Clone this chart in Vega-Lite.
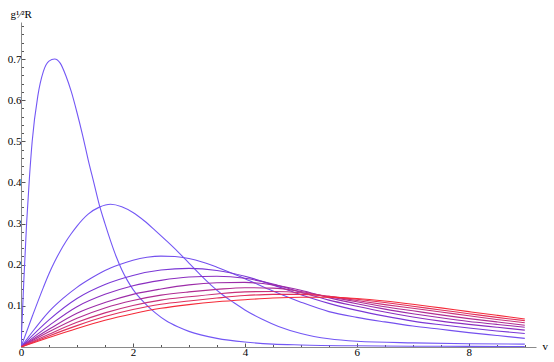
{
  "$schema": "https://vega.github.io/schema/vega-lite/v6.json",
  "width": 515,
  "height": 325,
  "autosize": "none",
  "padding": {"left": 21, "top": 22, "right": 18, "bottom": 15},
  "background": "white",
  "config": {
    "view": {"stroke": null},
    "axis": {
      "grid": false,
      "domainColor": "#8a8a8a",
      "domainWidth": 1,
      "tickColor": "#555555",
      "tickWidth": 1,
      "labelFont": "Liberation Serif",
      "labelFontSize": 11,
      "labelColor": "#000000",
      "titleFont": "Liberation Serif",
      "titleFontSize": 11,
      "titleFontWeight": "normal",
      "titleColor": "#000000"
    }
  },
  "datasets": {
    "curves": [
      {"c":"c1","v":0,"r":0},{"c":"c1","v":0.05,"r":0.16},{"c":"c1","v":0.1,"r":0.30},{"c":"c1","v":0.15,"r":0.41},{"c":"c1","v":0.2,"r":0.50},{"c":"c1","v":0.3,"r":0.61},{"c":"c1","v":0.4,"r":0.67},{"c":"c1","v":0.5,"r":0.695},{"c":"c1","v":0.6,"r":0.70},{"c":"c1","v":0.7,"r":0.69},{"c":"c1","v":0.8,"r":0.66},{"c":"c1","v":0.9,"r":0.62},{"c":"c1","v":1.0,"r":0.57},{"c":"c1","v":1.1,"r":0.515},{"c":"c1","v":1.2,"r":0.455},{"c":"c1","v":1.3,"r":0.40},{"c":"c1","v":1.4,"r":0.345},{"c":"c1","v":1.5,"r":0.30},{"c":"c1","v":1.6,"r":0.258},{"c":"c1","v":1.7,"r":0.22},{"c":"c1","v":1.8,"r":0.188},{"c":"c1","v":1.9,"r":0.162},{"c":"c1","v":2.0,"r":0.14},{"c":"c1","v":2.2,"r":0.108},{"c":"c1","v":2.4,"r":0.083},{"c":"c1","v":2.6,"r":0.063},{"c":"c1","v":2.8,"r":0.049},{"c":"c1","v":3.0,"r":0.038},{"c":"c1","v":3.5,"r":0.021},{"c":"c1","v":4.0,"r":0.012},{"c":"c1","v":4.5,"r":0.007},{"c":"c1","v":5.0,"r":0.005},{"c":"c1","v":6.0,"r":0.003},{"c":"c1","v":7.0,"r":0.002},{"c":"c1","v":8.0,"r":0.0015},{"c":"c1","v":9.0,"r":0.001},

      {"c":"c2","v":0,"r":0},{"c":"c2","v":0.2,"r":0.074},{"c":"c2","v":0.4,"r":0.145},{"c":"c2","v":0.5,"r":0.178},{"c":"c2","v":0.6,"r":0.207},{"c":"c2","v":0.7,"r":0.233},{"c":"c2","v":0.8,"r":0.256},{"c":"c2","v":0.9,"r":0.276},{"c":"c2","v":1.0,"r":0.294},{"c":"c2","v":1.2,"r":0.323},{"c":"c2","v":1.4,"r":0.340},{"c":"c2","v":1.6,"r":0.347},{"c":"c2","v":1.8,"r":0.341},{"c":"c2","v":2.0,"r":0.327},{"c":"c2","v":2.2,"r":0.307},{"c":"c2","v":2.4,"r":0.283},{"c":"c2","v":2.6,"r":0.258},{"c":"c2","v":2.8,"r":0.232},{"c":"c2","v":3.0,"r":0.204},{"c":"c2","v":3.2,"r":0.176},{"c":"c2","v":3.4,"r":0.150},{"c":"c2","v":3.6,"r":0.127},{"c":"c2","v":3.8,"r":0.108},{"c":"c2","v":4.0,"r":0.090},{"c":"c2","v":4.3,"r":0.068},{"c":"c2","v":4.6,"r":0.050},{"c":"c2","v":5.0,"r":0.033},{"c":"c2","v":5.5,"r":0.020},{"c":"c2","v":6.0,"r":0.014},{"c":"c2","v":7.0,"r":0.010},{"c":"c2","v":8.0,"r":0.008},{"c":"c2","v":9.0,"r":0.007},

      {"c":"c3","v":0,"r":0},{"c":"c3","v":0.25,"r":0.045},{"c":"c3","v":0.5,"r":0.086},{"c":"c3","v":0.75,"r":0.118},{"c":"c3","v":1.0,"r":0.145},{"c":"c3","v":1.25,"r":0.167},{"c":"c3","v":1.5,"r":0.186},{"c":"c3","v":1.75,"r":0.200},{"c":"c3","v":2.0,"r":0.211},{"c":"c3","v":2.25,"r":0.218},{"c":"c3","v":2.5,"r":0.221},{"c":"c3","v":2.75,"r":0.220},{"c":"c3","v":3.0,"r":0.215},{"c":"c3","v":3.25,"r":0.206},{"c":"c3","v":3.5,"r":0.194},{"c":"c3","v":4.0,"r":0.166},{"c":"c3","v":4.5,"r":0.136},{"c":"c3","v":5.0,"r":0.109},{"c":"c3","v":5.5,"r":0.086},{"c":"c3","v":6.0,"r":0.072},{"c":"c3","v":6.5,"r":0.061},{"c":"c3","v":7.0,"r":0.051},{"c":"c3","v":7.5,"r":0.043},{"c":"c3","v":8.0,"r":0.035},{"c":"c3","v":8.5,"r":0.028},{"c":"c3","v":9.0,"r":0.021},

      {"c":"c4","v":0,"r":0},{"c":"c4","v":0.5,"r":0.066},{"c":"c4","v":1.0,"r":0.118},{"c":"c4","v":1.5,"r":0.152},{"c":"c4","v":2.0,"r":0.174},{"c":"c4","v":2.5,"r":0.187},{"c":"c4","v":3.0,"r":0.191},{"c":"c4","v":3.5,"r":0.186},{"c":"c4","v":4.0,"r":0.172},{"c":"c4","v":4.5,"r":0.151},{"c":"c4","v":5.0,"r":0.127},{"c":"c4","v":5.5,"r":0.106},{"c":"c4","v":6.0,"r":0.089},{"c":"c4","v":6.5,"r":0.075},{"c":"c4","v":7.0,"r":0.063},{"c":"c4","v":7.5,"r":0.054},{"c":"c4","v":8.0,"r":0.046},{"c":"c4","v":8.5,"r":0.039},{"c":"c4","v":9.0,"r":0.033},

      {"c":"c5","v":0,"r":0},{"c":"c5","v":0.5,"r":0.052},{"c":"c5","v":1.0,"r":0.098},{"c":"c5","v":1.5,"r":0.128},{"c":"c5","v":2.0,"r":0.149},{"c":"c5","v":2.5,"r":0.162},{"c":"c5","v":3.0,"r":0.170},{"c":"c5","v":3.5,"r":0.172},{"c":"c5","v":4.0,"r":0.167},{"c":"c5","v":4.5,"r":0.153},{"c":"c5","v":5.0,"r":0.133},{"c":"c5","v":5.5,"r":0.114},{"c":"c5","v":6.0,"r":0.099},{"c":"c5","v":6.5,"r":0.085},{"c":"c5","v":7.0,"r":0.073},{"c":"c5","v":7.5,"r":0.063},{"c":"c5","v":8.0,"r":0.055},{"c":"c5","v":8.5,"r":0.048},{"c":"c5","v":9.0,"r":0.041},

      {"c":"c6","v":0,"r":0},{"c":"c6","v":0.5,"r":0.043},{"c":"c6","v":1.0,"r":0.082},{"c":"c6","v":1.5,"r":0.108},{"c":"c6","v":2.0,"r":0.128},{"c":"c6","v":2.5,"r":0.141},{"c":"c6","v":3.0,"r":0.151},{"c":"c6","v":3.5,"r":0.156},{"c":"c6","v":4.0,"r":0.157},{"c":"c6","v":4.5,"r":0.151},{"c":"c6","v":5.0,"r":0.138},{"c":"c6","v":5.5,"r":0.120},{"c":"c6","v":6.0,"r":0.105},{"c":"c6","v":6.5,"r":0.092},{"c":"c6","v":7.0,"r":0.081},{"c":"c6","v":7.5,"r":0.071},{"c":"c6","v":8.0,"r":0.062},{"c":"c6","v":8.5,"r":0.055},{"c":"c6","v":9.0,"r":0.048},

      {"c":"c7","v":0,"r":0},{"c":"c7","v":0.5,"r":0.037},{"c":"c7","v":1.0,"r":0.070},{"c":"c7","v":1.5,"r":0.095},{"c":"c7","v":2.0,"r":0.113},{"c":"c7","v":2.5,"r":0.126},{"c":"c7","v":3.0,"r":0.134},{"c":"c7","v":3.5,"r":0.140},{"c":"c7","v":4.0,"r":0.144},{"c":"c7","v":4.5,"r":0.143},{"c":"c7","v":5.0,"r":0.135},{"c":"c7","v":5.5,"r":0.122},{"c":"c7","v":6.0,"r":0.110},{"c":"c7","v":6.5,"r":0.098},{"c":"c7","v":7.0,"r":0.088},{"c":"c7","v":7.5,"r":0.078},{"c":"c7","v":8.0,"r":0.069},{"c":"c7","v":8.5,"r":0.061},{"c":"c7","v":9.0,"r":0.053},

      {"c":"c8","v":0,"r":0},{"c":"c8","v":0.5,"r":0.031},{"c":"c8","v":1.0,"r":0.060},{"c":"c8","v":1.5,"r":0.083},{"c":"c8","v":2.0,"r":0.101},{"c":"c8","v":2.5,"r":0.114},{"c":"c8","v":3.0,"r":0.122},{"c":"c8","v":3.5,"r":0.129},{"c":"c8","v":4.0,"r":0.134},{"c":"c8","v":4.5,"r":0.135},{"c":"c8","v":5.0,"r":0.132},{"c":"c8","v":5.5,"r":0.123},{"c":"c8","v":6.0,"r":0.113},{"c":"c8","v":6.5,"r":0.103},{"c":"c8","v":7.0,"r":0.094},{"c":"c8","v":7.5,"r":0.085},{"c":"c8","v":8.0,"r":0.076},{"c":"c8","v":8.5,"r":0.067},{"c":"c8","v":9.0,"r":0.059},

      {"c":"c9","v":0,"r":0},{"c":"c9","v":0.5,"r":0.027},{"c":"c9","v":1.0,"r":0.052},{"c":"c9","v":1.5,"r":0.074},{"c":"c9","v":2.0,"r":0.091},{"c":"c9","v":2.5,"r":0.104},{"c":"c9","v":3.0,"r":0.112},{"c":"c9","v":3.5,"r":0.119},{"c":"c9","v":4.0,"r":0.125},{"c":"c9","v":4.5,"r":0.128},{"c":"c9","v":5.0,"r":0.128},{"c":"c9","v":5.5,"r":0.123},{"c":"c9","v":6.0,"r":0.116},{"c":"c9","v":6.5,"r":0.108},{"c":"c9","v":7.0,"r":0.099},{"c":"c9","v":7.5,"r":0.090},{"c":"c9","v":8.0,"r":0.081},{"c":"c9","v":8.5,"r":0.072},{"c":"c9","v":9.0,"r":0.064},

      {"c":"c10","v":0,"r":0},{"c":"c10","v":0.5,"r":0.023},{"c":"c10","v":1.0,"r":0.045},{"c":"c10","v":1.5,"r":0.065},{"c":"c10","v":2.0,"r":0.081},{"c":"c10","v":2.5,"r":0.094},{"c":"c10","v":3.0,"r":0.103},{"c":"c10","v":3.5,"r":0.110},{"c":"c10","v":4.0,"r":0.115},{"c":"c10","v":4.5,"r":0.119},{"c":"c10","v":5.0,"r":0.121},{"c":"c10","v":5.5,"r":0.121},{"c":"c10","v":6.0,"r":0.118},{"c":"c10","v":6.5,"r":0.112},{"c":"c10","v":7.0,"r":0.104},{"c":"c10","v":7.5,"r":0.095},{"c":"c10","v":8.0,"r":0.086},{"c":"c10","v":8.5,"r":0.077},{"c":"c10","v":9.0,"r":0.068}
    ]
  },
  "data": {"name": "curves"},
  "mark": {"type": "line", "interpolate": "monotone", "strokeWidth": 1.1, "clip": true},
  "encoding": {
    "x": {
      "field": "v", "type": "quantitative",
      "scale": {"domain": [0, 9.2], "nice": false, "zero": true},
      "axis": {
        "orient": "bottom",
        "values": [0,0.5,1,1.5,2,2.5,3,3.5,4,4.5,5,5.5,6,6.5,7,7.5,8,8.5,9],
        "labelExpr": "datum.value % 2 == 0 ? format(datum.value, 'd') : ''",
        "tickSize": {"condition": {"test": "datum.value % 2 == 0", "value": -4}, "value": -2.5},
        "labelPadding": 3,
        "labelFlush": false,
        "labelOverlap": false,
        "title": "v",
        "titleAngle": 0,
        "titleAlign": "left",
        "titleBaseline": "middle",
        "titleX": 521,
        "titleY": -1
      }
    },
    "y": {
      "field": "r", "type": "quantitative",
      "scale": {"domain": [0, 0.79], "nice": false},
      "axis": {
        "orient": "left",
        "values": [0.02,0.04,0.06,0.08,0.1,0.12,0.14,0.16,0.18,0.2,0.22,0.24,0.26,0.28,0.3,0.32,0.34,0.36,0.38,0.4,0.42,0.44,0.46,0.48,0.5,0.52,0.54,0.56,0.58,0.6,0.62,0.64,0.66,0.68,0.7,0.72,0.74,0.76,0.78],
        "labelExpr": "abs(datum.value*10 - round(datum.value*10)) < 0.001 ? format(datum.value, '.1f') : ''",
        "tickSize": {"condition": {"test": "abs(datum.value*10 - round(datum.value*10)) < 0.001", "value": -4}, "value": -2.5},
        "labelPadding": 4,
        "labelFlush": false,
        "labelOverlap": false,
        "title": "g¹⁄²R",
        "titleAngle": 0,
        "titleAlign": "left",
        "titleBaseline": "alphabetic",
        "titleX": -11,
        "titleY": -5
      }
    },
    "color": {
      "field": "c", "type": "nominal",
      "scale": {
        "domain": ["c1","c2","c3","c4","c5","c6","c7","c8","c9","c10"],
        "range": ["#7357f5","#7357f5","#7450ee","#7a38d6","#8a2ec0","#9c2ca8","#b02d92","#c8317a","#e02f5c","#f52a38"]
      },
      "legend": null
    }
  }
}
